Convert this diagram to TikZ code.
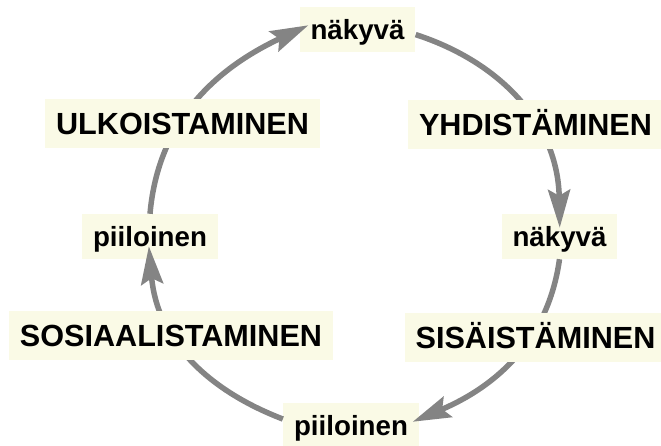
\documentclass[tikz,border=0pt]{standalone}
\usepackage{fontspec}
\setsansfont{Liberation Sans}
\usetikzlibrary{arrows.meta}
\definecolor{boxfill}{RGB}{250,250,230}
\definecolor{arrowgray}{RGB}{132,132,132}

\begin{document}
\begin{tikzpicture}[x=1pt,y=1pt,
    knowbox/.style={fill=boxfill,inner xsep=11pt,inner ysep=0pt,
      minimum height=45pt,text height=20pt,text depth=0pt,
      font=\sffamily\bfseries\fontsize{27.7}{30}\selectfont},
    phasebox/.style={fill=boxfill,inner xsep=11pt,inner ysep=0pt,
      minimum height=49pt,text height=22pt,text depth=0pt,
      font=\sffamily\bfseries\fontsize{30.6}{33}\selectfont},
    flow/.style={line width=5.5pt,draw=arrowgray,
      -{Stealth[length=38pt,width=22pt,inset=6pt]}}]
    \useasboundingbox (0,0) rectangle (661,445);
    %% knowledge states
    \node[knowbox] (vis1) at (357.5,415.5) {näkyvä};
    \node[knowbox] (vis2) at (559.5,208.5) {näkyvä};
    \node[knowbox] (hid1) at (351,20) {piiloinen};
    \node[knowbox] (hid2) at (150,208.5) {piiloinen};
    %% cycle
    \draw[flow,shorten >=-14pt] (vis1.-5) to[out=-18,in=91] (vis2.north);
    \draw[flow,shorten >=-7pt] (vis2.south) to[out=-98,in=23] (hid1.5);
    \draw[flow,shorten >=-13pt] (hid1.175) to[out=159,in=-85] (hid2.south);
    \draw[flow,shorten >=-10pt] (hid2.north) to[out=85,in=205] (vis1.west);
    %% phases
    \node[phasebox] (ulk) at (182.5,321) {ULKOISTAMINEN};
    \node[phasebox] (yhd) at (535.5,320.5) {YHDISTÄMINEN};
    \node[phasebox] (sis) at (535.5,107.5) {SISÄISTÄMINEN};
    \node[phasebox] (sos) at (171,109.5) {SOSIAALISTAMINEN};
  \end{tikzpicture}
\end{document}
